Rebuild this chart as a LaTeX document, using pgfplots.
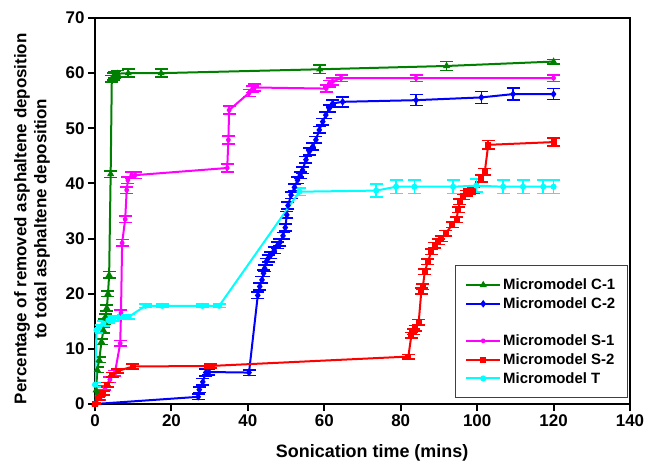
\documentclass[border=0pt]{standalone}
\usepackage{fontspec}
\setmainfont{Liberation Sans}
\usepackage{pgfplots}
\usepackage{pgfplotstable}
\pgfplotsset{compat=1.18}
\definecolor{cgreen}{RGB}{0,128,0}
\definecolor{cblue}{RGB}{0,0,255}
\definecolor{cmag}{RGB}{255,0,255}
\definecolor{cred}{RGB}{255,0,0}
\definecolor{ccyan}{RGB}{0,255,255}

\pgfplotstableread{
x y e
0 0 0.3
0.3 2.5 0.5
0.6 6.2 0.5
1.1 8 0.5
1.7 11.3 0.5
2.2 13.4 0.5
2.5 14.9 0.5
2.7 15.8 0.5
3.1 17.4 0.5
3.4 20 0.5
3.7 23.4 0.6
4.1 41.7 0.6
4.4 59 0.6
4.8 59.4 0.6
5.2 59.7 0.6
5.8 59.9 0.6
8.7 60 0.7
17.3 60 0.7
58.8 60.7 0.8
92 61.3 0.8
120 62.1 0.4
}\tabCa

\pgfplotstableread{
x y e
0 0 0.2
27 1.3 0.5
27.3 2.6 0.5
28.2 4 0.6
29 5.7 0.6
29.8 5.8 0.5
40.3 5.7 0.5
42.6 19.7 0.6
43.1 21.3 0.6
43.7 22.5 0.6
44.1 23.7 0.6
44.4 24.6 0.6
44.8 25.8 0.6
45.3 26.4 0.6
46 27 0.6
46.9 27.9 0.6
47.8 28.8 0.6
48.4 29.3 0.6
49.2 30.5 0.6
49.8 32 0.6
50.2 34.3 0.6
50.5 36 0.6
51.3 37.9 0.6
52.2 39.3 0.6
53 40.6 0.6
53.7 41.5 0.6
54.3 42.4 0.6
55.2 44.3 0.6
56.1 45.8 0.6
57 46.7 0.6
57.8 47.9 0.6
58.7 49.7 0.6
59.6 51.2 0.6
60.4 52.4 0.6
61.3 53.6 0.6
62.2 54.5 0.6
64.8 54.8 0.9
84 55.1 1.0
101.1 55.6 1.1
109.4 56.2 1.1
120 56.2 1.0
}\tabCb

\pgfplotstableread{
x y e
0 0 0.2
1.3 1.1 0.4
2.6 2.9 0.4
3.9 4.4 0.5
5.2 5.6 0.5
6.6 11 0.5
6.8 16.5 0.6
7.1 29.2 0.6
7.9 33.5 0.6
8.3 38.8 0.6
8.6 40.6 0.6
9.6 41.5 0.6
10.5 41.5 0.6
34.6 42.8 0.7
34.9 47.9 0.7
35.1 53.3 0.7
40.3 56.4 0.6
41.2 57.1 0.6
41.7 57.4 0.6
60.5 57.2 0.6
61.3 58.1 0.6
62.2 58.5 0.6
64.4 59.1 0.6
84 59.1 0.6
120 59.1 0.6
}\tabSa

\pgfplotstableread{
x y e
0 0 0.2
1 1 0.3
2.2 2 0.4
3.2 3.5 0.4
4.5 5.3 0.4
6 6 0.4
9.9 6.8 0.4
30.3 6.9 0.4
82 8.6 0.4
82.8 12.5 0.5
83.4 13.1 0.5
83.8 13.7 0.5
84.7 14.8 0.5
85.4 20.5 0.5
85.8 21.3 0.5
86.3 24 0.5
87.1 25.8 0.5
88 27.6 0.5
88.9 28.8 0.5
89.8 29.4 0.5
90.6 30 0.5
91.8 31 0.5
93.5 32.5 0.5
94.6 33.4 0.5
95 35.2 0.5
95.5 36.7 0.5
96.3 37.6 0.5
97.2 38.2 0.5
98.1 38.5 0.5
99 38.8 0.5
101.1 40.9 0.6
102 42.1 0.6
102.9 47 0.8
120 47.5 0.7
}\tabSb

\pgfplotstableread{
x y e
0 3.5 0.4
0.4 13.4 0.5
1 13.8 0.5
2.2 14.6 0.5
3.5 15.2 0.5
4.8 15.5 0.5
7.4 15.8 0.4
8.8 15.8 0.4
13.2 17.8 0.3
17.6 17.8 0.3
28.1 17.8 0.3
32.5 17.8 0.3
53.5 38.5 0.7
73.6 38.7 1.2
78.8 39.4 1.2
83.6 39.4 1.2
93.7 39.4 1.2
99.8 39.6 1.2
106.8 39.4 1.2
112 39.4 1.2
117.3 39.4 1.2
120 39.4 1.2
}\tabT

\begin{document}
\begin{tikzpicture}
\useasboundingbox (-95bp,-63bp) rectangle (554bp,404bp);
\begin{axis}[
  width=535bp, height=386bp, scale only axis,
  xmin=0, xmax=140, ymin=0, ymax=70,
  xtick={0,20,...,140}, ytick={0,10,...,70},
  tick align=outside, xtick pos=bottom, ytick pos=left,
  major tick length=7bp,
  axis line style={line width=2bp},
  every tick/.style={black, line width=2bp},
  /pgf/number format/assume math mode=true,
  tick label style={font=\fontsize{17}{17}\selectfont\bfseries},
  xlabel={Sonication time (mins)},
  ylabel={Percentage of removed asphaltene deposition\\to total asphaltene deposition},
  xlabel style={font=\fontsize{18}{20}\selectfont\bfseries, at={(axis description cs:0.518,-0.127)}, anchor=center},
  ylabel style={font=\fontsize{17}{20}\selectfont\bfseries, align=center, at={(axis description cs:-0.1178,0.48)}, anchor=center},
  error bars/y dir=both, error bars/y explicit,
  error bars/error mark options={rotate=90, mark size=6.5bp, line width=1.6bp},
  error bars/error bar style={line width=1.6bp},
  legend style={at={(axis description cs:0.9957,0.0155)}, anchor=south east,
    draw=black!75, line width=0.8bp, font=\fontsize{15}{18}\selectfont\bfseries,
    inner xsep=10bp, inner ysep=11bp, row sep=2.5bp},
  legend cell align=left,
  legend image code/.code={\draw[mark repeat=2,mark phase=2] plot coordinates {(0bp,0bp)(17bp,0bp)(34bp,0bp)};},
]
\addplot[cgreen, line width=2bp, mark=triangle*, mark size=2.2bp] table[x=x,y=y,y error=e] {\tabCa};
\addlegendentry{Micromodel C-1}
\addplot[cblue, line width=2bp, mark=diamond*, mark size=2.2bp] table[x=x,y=y,y error=e] {\tabCb};
\addlegendentry{Micromodel C-2}
\addlegendimage{empty legend}
\addlegendentry{\phantom{M}}
\addplot[cmag, line width=2bp, mark=asterisk, mark size=2.2bp] table[x=x,y=y,y error=e] {\tabSa};
\addlegendentry{Micromodel S-1}
\addplot[cred, line width=2bp, mark=square*, mark size=2bp] table[x=x,y=y,y error=e] {\tabSb};
\addlegendentry{Micromodel S-2}
\addplot[ccyan, line width=2bp, mark=*, mark size=2bp] table[x=x,y=y,y error=e] {\tabT};
\addlegendentry{Micromodel T}
\end{axis}
\end{tikzpicture}
\end{document}
